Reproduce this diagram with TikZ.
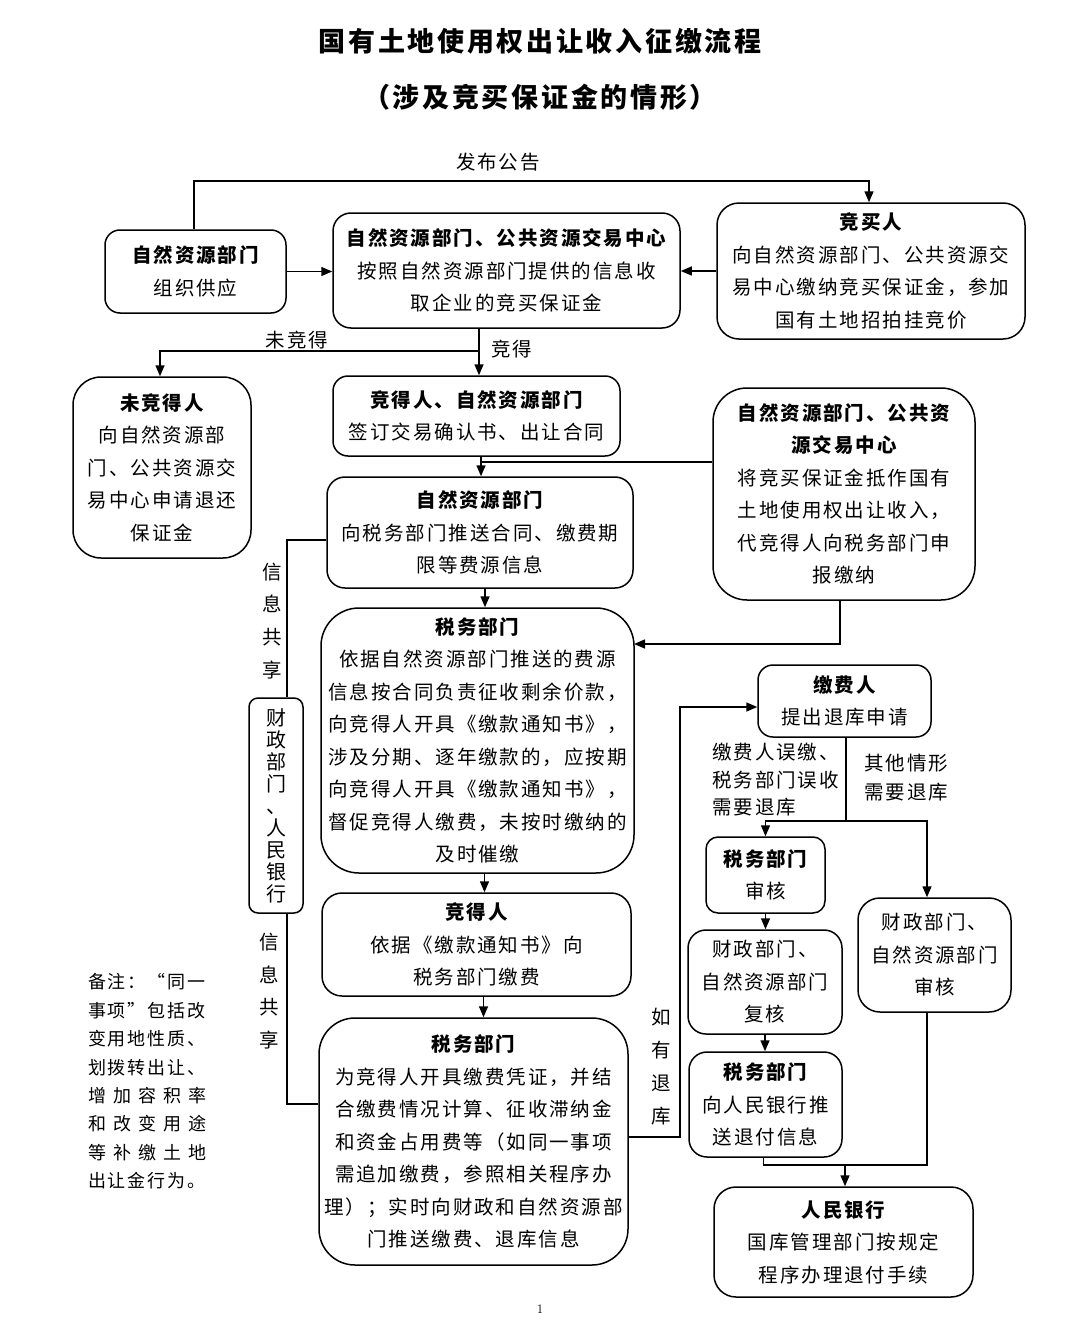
\documentclass[tikz,border=0pt]{standalone}
\usepackage{fontspec}
\newfontfamily\cjk{Noto Sans CJK SC}[LetterSpace=10]
\usetikzlibrary{arrows.meta,calc}
\newcommand\bodyf{\cjk\fontsize{19.5}{32.5}\selectfont}
\newcommand\hd[1]{{\bfseries #1}}
\newcommand\spreadfive[5]{\hbox to 118pt{#1\hfill #2\hfill #3\hfill #4\hfill #5}}
\begin{document}
\begin{tikzpicture}[x=1pt,y=-1pt,
  box/.style={draw, line width=1.5pt, align=center, inner sep=0pt, font=\bodyf},
  arr/.style={line width=1.5pt, -{Triangle[length=11pt,width=9pt]}},
  ln/.style={line width=1.5pt},
  lbl/.style={font=\bodyf, inner sep=0pt, align=center},
  vlbl/.style={font=\cjk\fontsize{19.5}{32.8}\selectfont, inner sep=0pt, align=center},
  sidelbl/.style={inner sep=0pt, anchor=west, align=left}]
\useasboundingbox[fill=white] (0,0) rectangle (1080,1327);

% title
\node[inner sep=0pt, font=\cjk\fontsize{27}{30}\selectfont\bfseries] (t1) at (540,41) {国有土地使用权出让收入征缴流程};
\node[inner sep=0pt, font=\cjk\fontsize{27}{30}\selectfont\bfseries] (t2) at (540,97) {（涉及竞买保证金的情形）};

% boxes
\node[box, rounded corners=15pt, minimum width=181pt, minimum height=83pt] (b1) at (195.5,271.5) {\hd{自然资源部门}\\组织供应};
\node[box, rounded corners=18pt, minimum width=347pt, minimum height=115pt] (b2) at (506.5,270.5) {\hd{自然资源部门、公共资源交易中心}\\按照自然资源部门提供的信息收\\取企业的竞买保证金};
\node[box, rounded corners=22pt, minimum width=308pt, minimum height=136pt] (b3) at (871,271) {\hd{竞买人}\\向自然资源部门、公共资源交\\易中心缴纳竞买保证金，参加\\国有土地招拍挂竞价};
\node[box, rounded corners=28pt, minimum width=178pt, minimum height=181pt] (b4) at (162,467.5) {\hd{未竞得人}\\向自然资源部\\门、公共资源交\\易中心申请退还\\保证金};
\node[box, rounded corners=15pt, minimum width=287pt, minimum height=80pt] (b5) at (476.5,416) {\hd{竞得人、自然资源部门}\\签订交易确认书、出让合同};
\node[box, rounded corners=18pt, minimum width=306pt, minimum height=111pt] (b6) at (480,532.5) {\hd{自然资源部门}\\向税务部门推送合同、缴费期\\限等费源信息};
\node[box, rounded corners=34pt, minimum width=262pt, minimum height=212pt] (b7) at (844,494) {\hd{自然资源部门、公共资}\\\hd{源交易中心}\\将竞买保证金抵作国有\\土地使用权出让收入，\\代竞得人向税务部门申\\报缴纳};
\node[box, rounded corners=38pt, minimum width=313pt, minimum height=265pt] (b8) at (477.5,740.5) {\hd{税务部门}\\依据自然资源部门推送的费源\\信息按合同负责征收剩余价款，\\向竞得人开具《缴款通知书》，\\涉及分期、逐年缴款的，应按期\\向竞得人开具《缴款通知书》，\\督促竞得人缴费，未按时缴纳的\\及时催缴};
\node[box, rounded corners=20pt, minimum width=309pt, minimum height=103pt] (b9) at (476.5,944.5) {\hd{竞得人}\\依据《缴款通知书》向\\税务部门缴费};
\node[box, rounded corners=36pt, minimum width=309pt, minimum height=247pt] (b10) at (473.5,1141.5) {\hd{税务部门}\\为竞得人开具缴费凭证，并结\\合缴费情况计算、征收滞纳金\\和资金占用费等（如同一事项\\需追加缴费，参照相关程序办\\理）；实时向财政和自然资源部\\门推送缴费、退库信息};
\node[box, rounded corners=9pt, minimum width=54pt, minimum height=215pt, font=\cjk\fontsize{20}{22}\selectfont] (b11) at (276,805.5) {财\\政\\部\\门\\、\\人\\民\\银\\行};
\node[box, rounded corners=15pt, minimum width=173pt, minimum height=72pt] (b12) at (844.5,701) {\hd{缴费人}\\提出退库申请};
\node[box, rounded corners=12pt, minimum width=119pt, minimum height=76pt] (b13) at (765.5,875) {\hd{税务部门}\\审核};
\node[box, rounded corners=18pt, minimum width=154pt, minimum height=104pt] (b14) at (765,982) {财政部门、\\自然资源部门\\复核};
\node[box, rounded corners=18pt, minimum width=153pt, minimum height=105pt] (b15) at (765.5,1104.5) {\hd{税务部门}\\向人民银行推\\送退付信息};
\node[box, rounded corners=22pt, minimum width=153pt, minimum height=114pt] (b16) at (934.5,955) {财政部门、\\自然资源部门\\审核};
\node[box, rounded corners=22pt, minimum width=259pt, minimum height=110pt] (b17) at (843.5,1242) {\hd{人民银行}\\国库管理部门按规定\\程序办理退付手续};

% labels
\node[lbl] (l1) at (498,162) {发布公告};
\node[lbl] (l2) at (297,340) {未竞得};
\node[lbl] (l3) at (512,349) {竞得};
\node[vlbl] (l4) at (272,621) {信\\息\\共\\享};
\node[vlbl] (l5) at (269,991) {信\\息\\共\\享};
\node[vlbl] (l6) at (661,1066.5) {如\\有\\退\\库};
\node[sidelbl, font=\cjk\fontsize{19.5}{27.5}\selectfont] (l7) at (712,780) {缴费人误缴、\\税务部门误收\\需要退库};
\node[sidelbl, font=\cjk\fontsize{19.5}{29}\selectfont] (l8) at (864,777.5) {其他情形\\需要退库};
\node[sidelbl, font=\cjk\fontsize{18}{28.4}\selectfont] (l9) at (88,1081.5) {备注：“同一\\事项”包括改\\变用地性质、\\划拨转出让、\\\spreadfive{增}{加}{容}{积}{率}\\\spreadfive{和}{改}{变}{用}{途}\\\spreadfive{等}{补}{缴}{土}{地}\\出让金行为。};
\node[inner sep=0pt, font=\fontsize{13}{15}\selectfont] (pg) at (540,1309) {1};

% coordinates
\coordinate (top) at (500,181);
\coordinate (j1) at (479,351);
\coordinate (j2) at (481,462);
\coordinate (c7) at (634,644);
\coordinate (s1) at (287,540);
\coordinate (s2) at (287,1104);
\coordinate (r1) at (680,1137);
\coordinate (r2) at (680,707);
\coordinate (j3) at (846,821);
\coordinate (j4) at (845,1165);

% connectors
\draw[arr] ([xshift=-1.5pt]b1.north) |- (top) -| ([xshift=-2pt]b3.north);
\draw[arr] (b1.east) -- (b1.east -| b2.west);
\draw[arr] (b3.west) -- (b3.west -| b2.east);
\draw[ln] (b2.south -| j1) -- (j1);
\draw[arr] (j1) -| ([xshift=-2pt]b4.north);
\draw[arr] (j1) -- (j1 |- b5.north);
\draw[arr] (b5.south -| j2) -- (b6.north -| j2);
\draw[ln] (j2) -- (j2 -| b7.west);
\draw[arr] ([xshift=5pt]b6.south) -- ([xshift=5pt]b6.south |- b8.north);
\draw[arr] ([xshift=-4pt]b7.south) |- (c7);
\draw[arr] ([xshift=7pt]b8.south) -- ([xshift=7pt]b8.south |- b9.north);
\draw[arr] ([xshift=7pt]b9.south) -- ([xshift=7pt]b9.south |- b10.north);
\draw[ln] (b6.west |- s1) -- (s1) -- (s1 |- b11.north);
\draw[ln] (s2 |- b11.south) -- (s2) -- (s2 -| b10.west);
\draw[arr] (r1 -| b10.east) -- (r1) -- (r2) -- (r2 -| b12.west);
\draw[ln] (b12.south -| j3) -- (j3);
\draw[arr] (j3) -| (b13.north);
\draw[arr] (j3) -| ([xshift=-7.5pt]b16.north);
\draw[arr] (b13.south) -- (b13.south |- b14.north);
\draw[arr] (b14.south) -- (b14.south |- b15.north);
\draw[ln] ([xshift=-2pt]b15.south) |- (j4);
\draw[ln] ([xshift=-7.5pt]b16.south) |- (j4);
\draw[arr] (j4) -- (j4 |- b17.north);
\end{tikzpicture}
\end{document}
